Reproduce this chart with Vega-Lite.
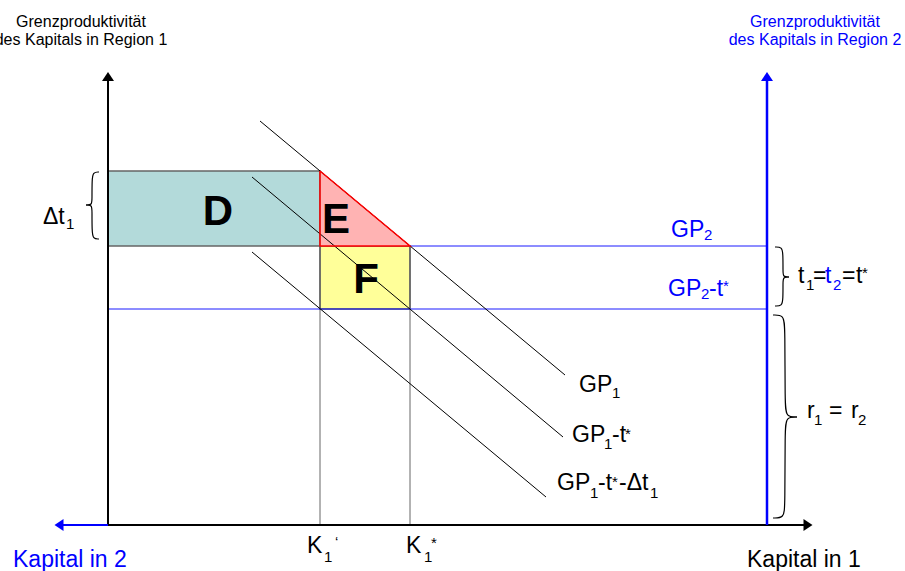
{
  "$schema": "https://vega.github.io/schema/vega-lite/v6.json",
  "width": 905,
  "height": 571,
  "autosize": {"type": "none"},
  "padding": 0,
  "background": "white",
  "config": {"view": {"stroke": null}, "text": {"font": "Liberation Sans"}},
  "datasets": {
    "boxD": [{"x": 0, "x2": 212, "y": 279, "y2": 354}],
    "boxF": [{"x": 212, "x2": 302, "y": 216, "y2": 279}],
    "triE": [{"x": 212, "y": 354, "y2": 279}, {"x": 302, "y": 279, "y2": 279}],
    "triEOutline": [{"x": 212, "y": 354, "i": 0}, {"x": 302, "y": 279, "i": 1}, {"x": 212, "y": 279, "i": 2}, {"x": 212, "y": 354, "i": 3}],
    "greyLines": [{"x": 212, "y": 0, "x2": 212, "y2": 354}, {"x": 302, "y": 0, "x2": 302, "y2": 279}],
    "blueThin": [{"name": "GP2", "x": 302, "y": 279, "x2": 659, "y2": 279}, {"name": "GP2-t*", "x": 0, "y": 216, "x2": 659, "y2": 216}],
    "curves": [
      {"name": "GP1", "x": 152, "y": 404, "x2": 457, "y2": 150},
      {"name": "GP1-t*", "x": 144, "y": 348, "x2": 455, "y2": 88},
      {"name": "GP1-t*-Δt1", "x": 144, "y": 273, "x2": 438, "y2": 28}
    ],
    "axesBlack": [{"x": 0, "y": 0, "x2": 0, "y2": 446}, {"x": 0, "y": 0, "x2": 698, "y2": 0}],
    "axesBlueH": [{"x": -50, "y": 0, "x2": 0, "y2": 0}],
    "axesBlueV": [{"x": 659, "y": 0, "x2": 659, "y2": 446}],
    "arrowsBlack": [{"x": 0, "y": 448.5, "dir": "up"}, {"x": 700, "y": 0, "dir": "right"}],
    "arrowsBlue": [{"x": 659, "y": 448.5, "dir": "up"}, {"x": -49, "y": 0, "dir": "left"}],
    "braces": [
      {"part": "a1", "i": 0, "x": -9, "y": 353}, {"part": "a1", "i": 1, "x": -15, "y": 353}, {"part": "a1", "i": 2, "x": -16, "y": 345}, {"part": "a1", "i": 3, "x": -16, "y": 326}, {"part": "a1", "i": 4, "x": -16, "y": 320}, {"part": "a1", "i": 5, "x": -22, "y": 320},
      {"part": "a2", "i": 0, "x": -22, "y": 320}, {"part": "a2", "i": 1, "x": -16, "y": 320}, {"part": "a2", "i": 2, "x": -16, "y": 314}, {"part": "a2", "i": 3, "x": -16, "y": 294}, {"part": "a2", "i": 4, "x": -15, "y": 286}, {"part": "a2", "i": 5, "x": -9, "y": 286},
      {"part": "b1", "i": 0, "x": 667, "y": 278}, {"part": "b1", "i": 1, "x": 674, "y": 278}, {"part": "b1", "i": 2, "x": 675, "y": 271}, {"part": "b1", "i": 3, "x": 675, "y": 254}, {"part": "b1", "i": 4, "x": 675, "y": 248}, {"part": "b1", "i": 5, "x": 681, "y": 248},
      {"part": "b2", "i": 0, "x": 681, "y": 248}, {"part": "b2", "i": 1, "x": 675, "y": 248}, {"part": "b2", "i": 2, "x": 675, "y": 242}, {"part": "b2", "i": 3, "x": 675, "y": 226}, {"part": "b2", "i": 4, "x": 674, "y": 219}, {"part": "b2", "i": 5, "x": 667, "y": 219},
      {"part": "c1", "i": 0, "x": 665, "y": 210}, {"part": "c1", "i": 1, "x": 676, "y": 210}, {"part": "c1", "i": 2, "x": 677, "y": 197}, {"part": "c1", "i": 3, "x": 677, "y": 121}, {"part": "c1", "i": 4, "x": 678, "y": 108}, {"part": "c1", "i": 5, "x": 689, "y": 108},
      {"part": "c2", "i": 0, "x": 689, "y": 108}, {"part": "c2", "i": 1, "x": 678, "y": 108}, {"part": "c2", "i": 2, "x": 677, "y": 95}, {"part": "c2", "i": 3, "x": 677, "y": 19}, {"part": "c2", "i": 4, "x": 676, "y": 7}, {"part": "c2", "i": 5, "x": 665, "y": 7}
    ],
    "headBlack": [{"x": -27, "y": 498, "t": "Grenzproduktivität"}, {"x": -27, "y": 480, "t": "des Kapitals in Region 1"}],
    "headBlue": [{"x": 707, "y": 498, "t": "Grenzproduktivität"}, {"x": 707, "y": 480, "t": "des Kapitals in Region 2"}],
    "bigLetters": [{"x": 110, "y": 300, "t": "D"}, {"x": 228, "y": 292, "t": "E"}, {"x": 258, "y": 232, "t": "F"}],
    "textBlack": [
      {"x": -65, "y": 301, "t": "Δt"},
      {"x": 471, "y": 133, "t": "GP"},
      {"x": 464, "y": 83, "t": "GP"}, {"x": 504, "y": 83, "t": "-t"},
      {"x": 449, "y": 35, "t": "GP"}, {"x": 490, "y": 35, "t": "-t"}, {"x": 511, "y": 35, "t": "-Δt"},
      {"x": 199, "y": -28, "t": "K"}, {"x": 298, "y": -28, "t": "K"},
      {"x": 690, "y": 242, "t": "t"}, {"x": 705, "y": 242, "t": "="}, {"x": 734, "y": 242, "t": "="}, {"x": 748, "y": 242, "t": "t"},
      {"x": 699, "y": 107, "t": "r"}, {"x": 721, "y": 107, "t": "="}, {"x": 743, "y": 107, "t": "r"}
    ],
    "textBlue": [
      {"x": 563, "y": 288, "t": "GP"},
      {"x": 560, "y": 229, "t": "GP"}, {"x": 601, "y": 229, "t": "-t"},
      {"x": 717, "y": 242, "t": "t"}
    ],
    "subBlack": [
      {"x": -42, "y": 296, "t": "1"},
      {"x": 504, "y": 127, "t": "1"},
      {"x": 496, "y": 76, "t": "1"},
      {"x": 482, "y": 27, "t": "1"}, {"x": 542, "y": 27, "t": "1"},
      {"x": 216, "y": -37, "t": "1"}, {"x": 316, "y": -37, "t": "1"},
      {"x": 698, "y": 235, "t": "1"},
      {"x": 706, "y": 100, "t": "1"}, {"x": 750, "y": 100, "t": "2"}
    ],
    "subBlue": [
      {"x": 596, "y": 285, "t": "2"},
      {"x": 593, "y": 226, "t": "2"},
      {"x": 725, "y": 235, "t": "2"}
    ],
    "supBlack": [
      {"x": 517, "y": 86, "t": "*"},
      {"x": 504, "y": 38, "t": "*"},
      {"x": 323, "y": -23, "t": "*"},
      {"x": 754, "y": 247, "t": "*"},
      {"x": 227, "y": -22, "t": "‘"}
    ],
    "supBlue": [{"x": 615, "y": 234, "t": "*"}],
    "capitalBlue": [{"x": -95, "y": -42, "t": "Kapital in 2"}],
    "capitalBlack": [{"x": 639, "y": -42, "t": "Kapital in 1"}]
  },
  "encoding": {
    "x": {"field": "x", "type": "quantitative", "scale": {"domain": [-108, 797], "nice": false, "zero": false}, "axis": null},
    "y": {"field": "y", "type": "quantitative", "scale": {"domain": [-46, 525], "nice": false, "zero": false}, "axis": null}
  },
  "layer": [
    {"data": {"name": "boxD"}, "mark": {"type": "rect", "fill": "#b3dada", "stroke": "#666666", "strokeWidth": 1.5}, "encoding": {"x2": {"field": "x2"}, "y2": {"field": "y2"}}},
    {"data": {"name": "boxF"}, "mark": {"type": "rect", "fill": "#ffff99", "stroke": "#555555", "strokeWidth": 1.5}, "encoding": {"x2": {"field": "x2"}, "y2": {"field": "y2"}}},
    {"data": {"name": "triE"}, "mark": {"type": "area", "fill": "#ffb3b3", "stroke": null}, "encoding": {"y2": {"field": "y2"}}},
    {"data": {"name": "greyLines"}, "mark": {"type": "rule", "color": "#666666", "strokeWidth": 1}, "encoding": {"x2": {"field": "x2"}, "y2": {"field": "y2"}}},
    {"data": {"name": "blueThin"}, "mark": {"type": "rule", "color": "#1a1aff", "strokeWidth": 1}, "encoding": {"x2": {"field": "x2"}, "y2": {"field": "y2"}}},
    {"data": {"name": "curves"}, "mark": {"type": "rule", "color": "#000000", "strokeWidth": 1}, "encoding": {"x2": {"field": "x2"}, "y2": {"field": "y2"}}},
    {"data": {"name": "triEOutline"}, "mark": {"type": "line", "color": "#ff0000", "strokeWidth": 1.5}, "encoding": {"order": {"field": "i", "type": "quantitative"}}},
    {"data": {"name": "axesBlack"}, "mark": {"type": "rule", "color": "#000000", "strokeWidth": 2}, "encoding": {"x2": {"field": "x2"}, "y2": {"field": "y2"}}},
    {"data": {"name": "axesBlueH"}, "mark": {"type": "rule", "color": "#0000ff", "strokeWidth": 2}, "encoding": {"x2": {"field": "x2"}, "y2": {"field": "y2"}}},
    {"data": {"name": "axesBlueV"}, "mark": {"type": "rule", "color": "#0000ff", "strokeWidth": 2.5}, "encoding": {"x2": {"field": "x2"}, "y2": {"field": "y2"}}},
    {"data": {"name": "arrowsBlack"}, "mark": {"type": "point", "filled": true, "color": "#000000", "size": 144, "opacity": 1},
     "encoding": {"shape": {"field": "dir", "type": "nominal", "legend": null, "scale": {"domain": ["up", "right", "left"], "range": ["M-1,0.75L0,-0.75L1,0.75Z", "M-0.75,-1L0.75,0L-0.75,1Z", "M0.75,-1L-0.75,0L0.75,1Z"]}}}},
    {"data": {"name": "arrowsBlue"}, "mark": {"type": "point", "filled": true, "color": "#0000ff", "size": 144, "opacity": 1},
     "encoding": {"shape": {"field": "dir", "type": "nominal", "legend": null, "scale": {"domain": ["up", "right", "left"], "range": ["M-1,0.75L0,-0.75L1,0.75Z", "M-0.75,-1L0.75,0L-0.75,1Z", "M0.75,-1L-0.75,0L0.75,1Z"]}}}},
    {"data": {"name": "braces"}, "mark": {"type": "line", "color": "#000000", "strokeWidth": 1.2, "interpolate": "basis"},
     "encoding": {"detail": {"field": "part", "type": "nominal"}, "order": {"field": "i", "type": "quantitative"}}},
    {"data": {"name": "headBlack"}, "mark": {"type": "text", "fontSize": 16, "align": "center", "baseline": "alphabetic", "color": "#000000"}, "encoding": {"text": {"field": "t"}}},
    {"data": {"name": "headBlue"}, "mark": {"type": "text", "fontSize": 16, "align": "center", "baseline": "alphabetic", "color": "#0000ff"}, "encoding": {"text": {"field": "t"}}},
    {"data": {"name": "bigLetters"}, "mark": {"type": "text", "fontSize": 42, "fontWeight": "bold", "align": "center", "baseline": "alphabetic", "color": "#000000"}, "encoding": {"text": {"field": "t"}}},
    {"data": {"name": "textBlack"}, "mark": {"type": "text", "fontSize": 23, "align": "left", "baseline": "alphabetic", "color": "#000000"}, "encoding": {"text": {"field": "t"}}},
    {"data": {"name": "textBlue"}, "mark": {"type": "text", "fontSize": 23, "align": "left", "baseline": "alphabetic", "color": "#0000ff"}, "encoding": {"text": {"field": "t"}}},
    {"data": {"name": "subBlack"}, "mark": {"type": "text", "fontSize": 15, "align": "left", "baseline": "alphabetic", "color": "#000000"}, "encoding": {"text": {"field": "t"}}},
    {"data": {"name": "subBlue"}, "mark": {"type": "text", "fontSize": 15, "align": "left", "baseline": "alphabetic", "color": "#0000ff"}, "encoding": {"text": {"field": "t"}}},
    {"data": {"name": "supBlack"}, "mark": {"type": "text", "fontSize": 15, "align": "left", "baseline": "alphabetic", "color": "#000000"}, "encoding": {"text": {"field": "t"}}},
    {"data": {"name": "supBlue"}, "mark": {"type": "text", "fontSize": 15, "align": "left", "baseline": "alphabetic", "color": "#0000ff"}, "encoding": {"text": {"field": "t"}}},
    {"data": {"name": "capitalBlue"}, "mark": {"type": "text", "fontSize": 23, "align": "left", "baseline": "alphabetic", "color": "#0000ff"}, "encoding": {"text": {"field": "t"}}},
    {"data": {"name": "capitalBlack"}, "mark": {"type": "text", "fontSize": 23, "align": "left", "baseline": "alphabetic", "color": "#000000"}, "encoding": {"text": {"field": "t"}}}
  ]
}
